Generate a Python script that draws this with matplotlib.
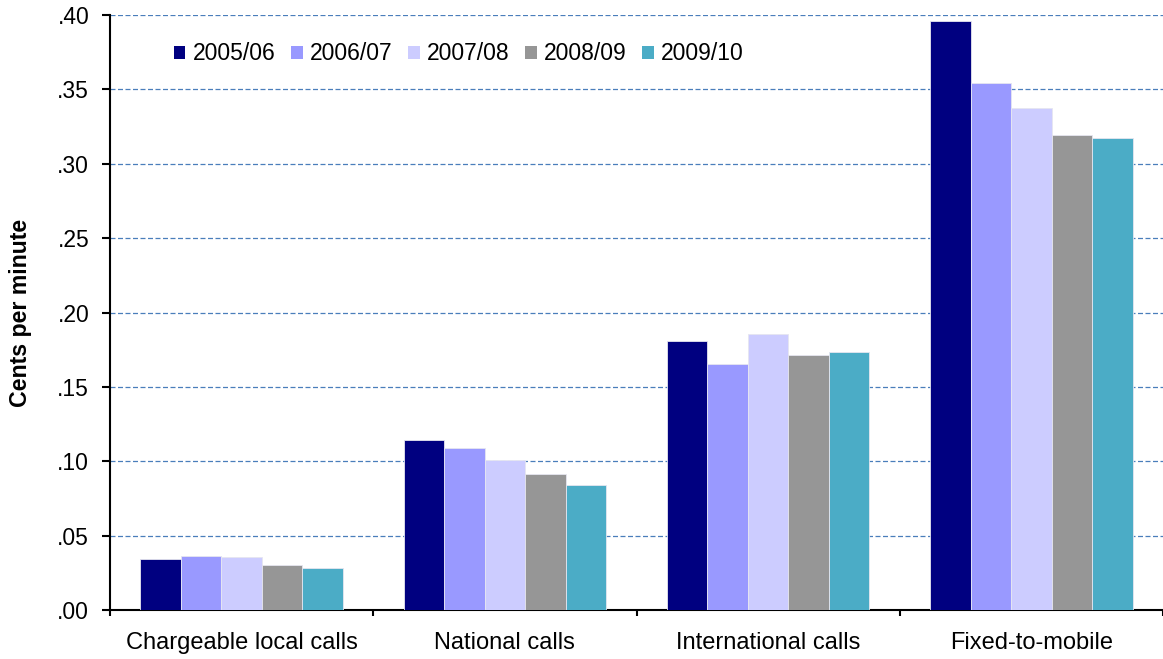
import numpy as np
import matplotlib
matplotlib.use("Agg")
import matplotlib.pyplot as plt

plt.rcParams["font.family"] = ["Liberation Sans", "DejaVu Sans"]

categories = ["Chargeable local calls", "National calls", "International calls", "Fixed-to-mobile"]
years = ["2005/06", "2006/07", "2007/08", "2008/09", "2009/10"]
values = {
    "2005/06": [0.0342, 0.1142, 0.1809, 0.3958],
    "2006/07": [0.0364, 0.1092, 0.1652, 0.3545],
    "2007/08": [0.0353, 0.1007, 0.1858, 0.3375],
    "2008/09": [0.0304, 0.0912, 0.1713, 0.3194],
    "2009/10": [0.0282, 0.0839, 0.1735, 0.3171],
}
colors = ["#000080", "#9999FF", "#CCCCFF", "#969696", "#4BACC6"]
yticks = [0.00, 0.05, 0.10, 0.15, 0.20, 0.25, 0.30, 0.35, 0.40]
ytick_labels = [".00", ".05", ".10", ".15", ".20", ".25", ".30", ".35", ".40"]

W, H = 1163, 659
fig = plt.figure(figsize=(W / 100, H / 100), dpi=100)
ax = fig.add_axes([110 / W, (H - 610) / H, (1163 - 110) / W, (610 - 15) / H])

x = np.arange(len(categories))
group = 0.77
bw = group / len(years)
for i, (yr, c) in enumerate(zip(years, colors)):
    offs = -group / 2 + bw * (i + 0.5)
    ax.bar(x + offs, values[yr], width=bw, color=c, edgecolor="#E6E6F0",
           linewidth=0.6, label=yr, zorder=3)

ax.set_xlim(-0.5, len(categories) - 0.5)
ax.set_ylim(0, 0.40)
ax.set_yticks(yticks)
ax.set_yticklabels(ytick_labels, fontsize=16.5)
ax.yaxis.grid(True, linestyle=(0, (4, 2)), color="#4A7EBB", linewidth=0.9, zorder=0)
ax.set_axisbelow(True)

# category boundaries as tick marks, labels centred between them
ax.set_xticks(np.arange(len(categories) + 1) - 0.5)
ax.set_xticklabels([])
ax.set_xticks(x, minor=True)
ax.set_xticklabels(categories, minor=True, fontsize=17)
ax.tick_params(axis="x", which="minor", length=0, pad=16)
ax.tick_params(axis="x", which="major", length=4, width=1.5, direction="out")
ax.tick_params(axis="y", length=6, width=1.5, direction="out", pad=9)

for s in ["top", "right"]:
    ax.spines[s].set_visible(False)
for s in ["left", "bottom"]:
    ax.spines[s].set_linewidth(1.5)
    ax.spines[s].set_color("black")

ax.set_ylabel("Cents per minute", fontsize=16.7, fontweight="bold")
ax.yaxis.set_label_coords(-(110 - 32) / 1053, 0.5)

leg = ax.legend(loc="center left", bbox_to_anchor=((174 - 110) / 1053, (610 - 54) / 595),
                ncol=5, frameon=False, fontsize=16.5, handlelength=0.5, handleheight=0.5,
                handletextpad=0.33, columnspacing=0.67, borderpad=0, borderaxespad=0)
for h in leg.legend_handles:
    h.set_edgecolor("none")

fig.savefig("out.png", dpi=100)
